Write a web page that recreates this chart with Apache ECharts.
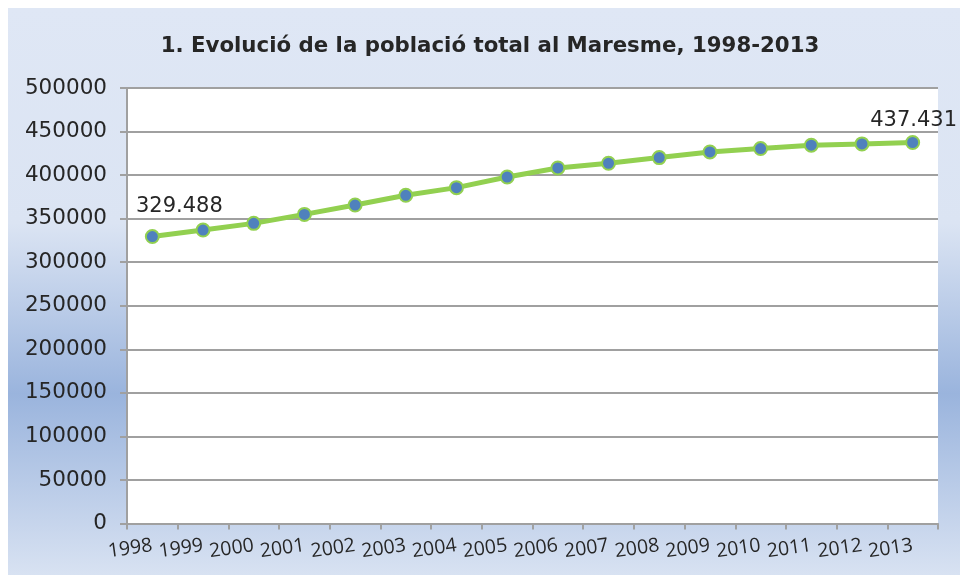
<!DOCTYPE html>
<html>
<head>
<meta charset="utf-8">
<script src="https://cdn.jsdelivr.net/npm/echarts@6/dist/echarts.min.js"></script>
<style>
html,body{margin:0;padding:0;background:#fff;}
#chart{width:960px;height:575px;}
</style>
</head>
<body>
<div id="chart"></div>
<script>
var titleText = '1. Evolució de la població total al Maresme, 1998-2013';
var years = ['1998','1999','2000','2001','2002','2003','2004','2005','2006','2007','2008','2009','2010','2011','2012','2013'];
var population = [329488, 336900, 344600, 354900, 365600, 376800, 385600, 397800, 408200, 413600, 420100, 426600, 430500, 434300, 435800, 437431];
var labelTexts = ['329.488', '437.431'];
var yMin = 0, yMax = 500000, yStep = 50000;

var chart = echarts.init(document.getElementById('chart'), null, {renderer: 'canvas'});

var seriesData = population.map(function (v, i) {
  var item = {value: v};
  if (i === 0) {
    item.label = {show: true, formatter: labelTexts[0], position: 'top', offset: [27, -7]};
  } else if (i === population.length - 1) {
    item.label = {show: true, formatter: labelTexts[1], position: 'top', offset: [1, 1]};
  }
  return item;
});

var option = {
  animation: false,
  backgroundColor: '#ffffff',
  graphic: [{
    type: 'rect',
    z: -10,
    silent: true,
    shape: {x: 8, y: 8, width: 952, height: 567},
    style: {
      fill: new echarts.graphic.LinearGradient(0, 0, 0, 1, [
        {offset: 0, color: '#dfe7f5'},
        {offset: 0.38, color: '#dbe4f3'},
        {offset: 0.68, color: '#9ab4dd'},
        {offset: 1, color: '#d8e2f2'}
      ])
    }
  }],
  title: {
    text: titleText,
    left: 485,
    textAlign: 'center',
    top: 31,
    textStyle: {fontFamily: 'DejaVu Sans', fontWeight: 'bold', fontSize: 21.3, color: '#262626'}
  },
  grid: {left: 127, right: 22, top: 88, bottom: 51.5, containLabel: false, show: true, backgroundColor: '#ffffff', borderWidth: 0},
  xAxis: {
    type: 'category',
    data: years,
    boundaryGap: true,
    axisLine: {show: true, lineStyle: {color: '#a0a0a0', width: 2}},
    axisTick: {show: true, length: 6, lineStyle: {color: '#a0a0a0', width: 2}},
    axisLabel: {rotate: 8, margin: 22, fontFamily: 'Open Sans', fontSize: 19.5, color: '#262626', interval: 0},
    splitLine: {show: false}
  },
  yAxis: {
    type: 'value',
    min: yMin,
    max: yMax,
    interval: yStep,
    axisLine: {show: true, lineStyle: {color: '#a0a0a0', width: 2}},
    axisTick: {show: true, length: 7, lineStyle: {color: '#a0a0a0', width: 2}},
    axisLabel: {margin: 20, fontFamily: 'DejaVu Sans', fontSize: 21.5, color: '#262626', formatter: function (v) { return String(v); }},
    splitLine: {show: true, lineStyle: {color: '#a0a0a0', width: 2}}
  },
  series: [{
    type: 'line',
    data: seriesData,
    symbol: 'circle',
    symbolSize: 13,
    lineStyle: {color: '#92d050', width: 5},
    itemStyle: {color: '#4f81bd', borderColor: '#92d050', borderWidth: 2},
    label: {show: false, fontFamily: 'DejaVu Sans', fontSize: 21, color: '#262626'},
    z: 5
  }]
};
chart.setOption(option);
</script>
</body>
</html>
